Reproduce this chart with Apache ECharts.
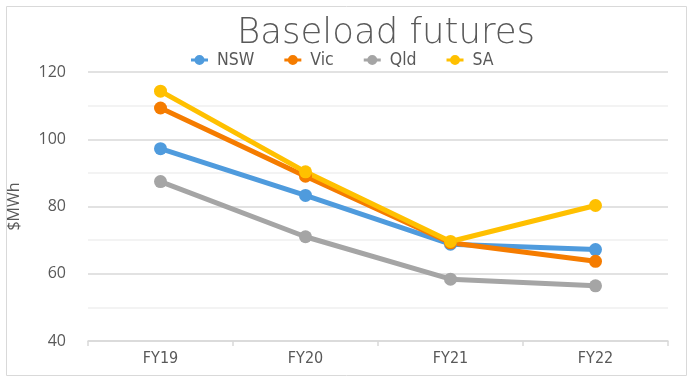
<!DOCTYPE html>
<html><head><meta charset="utf-8">
<script src="https://cdn.jsdelivr.net/npm/echarts@6/dist/echarts.min.js"></script>
<style>html,body{margin:0;padding:0;background:#fff}#c{width:694px;height:383px}</style>
</head><body><div id="c"></div>
<script>
const categories = ['FY19','FY20','FY21','FY22'];
const nsw = [97.2, 83.3, 68.8, 67.2];
const vic = [109.3, 89.0, 69.2, 63.7];
const qld = [87.4, 71.0, 58.4, 56.4];
const sa  = [114.3, 90.3, 69.6, 80.3];
const yTicks = [40, 60, 80, 100, 120];

const chart = echarts.init(document.getElementById('c'));
const mk = (name, data, color) => ({
  name, type: 'line', data, symbol: 'circle', symbolSize: 13,
  lineStyle: {width: 5, color}, itemStyle: {color}
});
const narrow = 'Liberation Sans Narrow, DejaVu Sans Condensed, sans-serif';
const legendIcon = 'path://M0,4h17v3H0z M3.5,5.5a5,5 0 1,1 10,0a5,5 0 1,1 -10,0z';
chart.setOption({
  animation: false,
  title: {text: 'Baseload futures', left: 232, top: 11,
    textStyle: {fontFamily: 'DejaVu Sans', fontWeight: 200, fontSize: 35.5, color: '#595959'}},
  legend: {top: 46, left: 186, itemWidth: 17, itemHeight: 11, itemGap: 30,
    icon: legendIcon,
    textStyle: {fontFamily: narrow, fontSize: 17.5, color: '#595959', padding: [0, 0, 0, 4]},
    data: ['NSW','Vic','Qld','SA']},
  graphic: [{type: 'rect', shape: {x: 6.5, y: 6.5, width: 680, height: 369},
    style: {fill: 'none', stroke: '#D9D9D9', lineWidth: 1}}],
  grid: {left: 88, right: 26, top: 72, bottom: 42, outerBoundsMode: 'none', containLabel: false},
  xAxis: {type: 'category', data: categories, boundaryGap: true,
    axisLine: {lineStyle: {color: '#D9D9D9', width: 1.5}},
    axisTick: {show: true, length: 5, lineStyle: {color: '#D9D9D9', width: 1.5}},
    axisLabel: {color: '#595959', fontSize: 16, margin: 10, fontFamily: narrow}},
  yAxis: {type: 'value', min: yTicks[0], max: yTicks[yTicks.length-1], interval: 20,
    name: '$MWh', nameLocation: 'middle', nameGap: 66, nameRotate: 90,
    nameTextStyle: {color: '#595959', fontSize: 16, fontFamily: 'Open Sans'},
    axisLine: {show: false}, axisTick: {show: false},
    axisLabel: {color: '#595959', fontSize: 16, margin: 22, fontFamily: 'Open Sans'},
    splitLine: {lineStyle: {color: '#D9D9D9', width: 1.5}},
    minorTick: {show: false, splitNumber: 2},
    minorSplitLine: {show: true, lineStyle: {color: '#F0F0F0', width: 1.5}}},
  series: [mk('NSW', nsw, '#4F9BDD'), mk('Vic', vic, '#F57C00'), mk('Qld', qld, '#A5A5A5'), mk('SA', sa, '#FFC000')]
});
</script></body></html>
